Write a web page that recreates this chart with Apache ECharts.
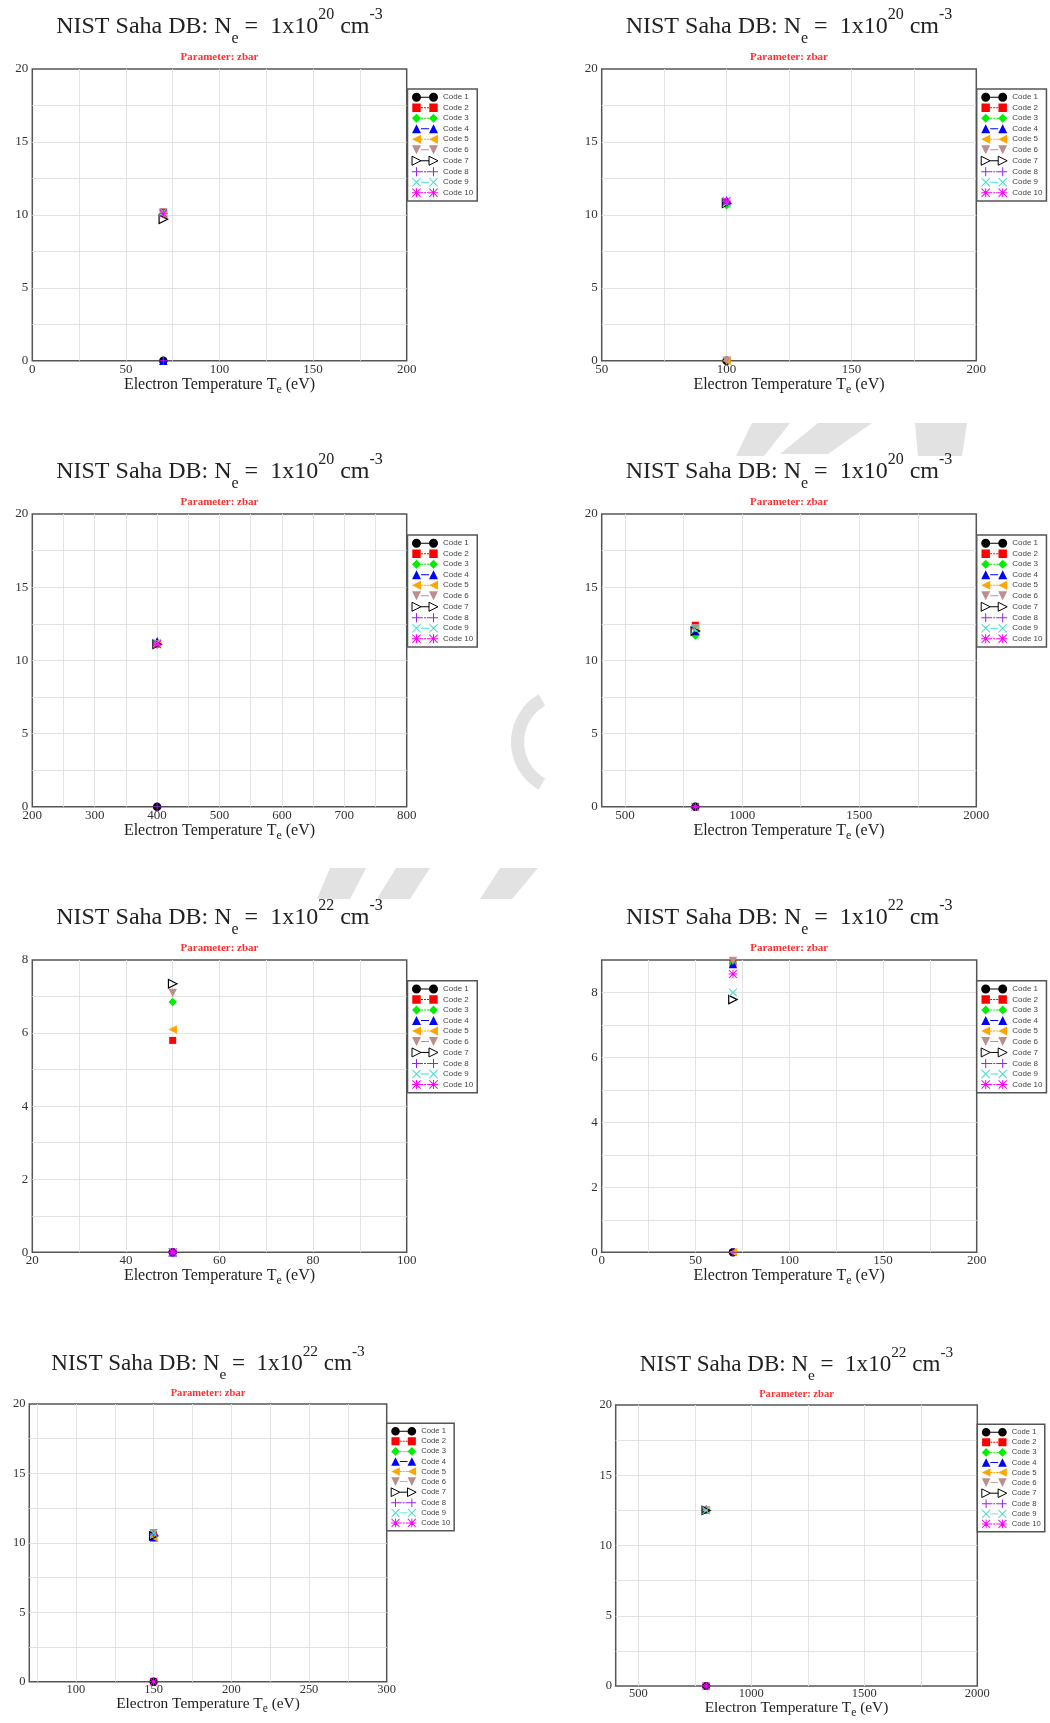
<!DOCTYPE html>
<html><head><meta charset="utf-8">
<script src="https://cdn.jsdelivr.net/npm/echarts@6/dist/echarts.min.js"></script>
<style>html,body{margin:0;padding:0;background:#fff}#c{width:1050px;height:1723px}</style>
</head><body><div id="c"></div>
<script>
// ---------------- data ----------------
const codeNames = ['Code 1','Code 2','Code 3','Code 4','Code 5','Code 6','Code 7','Code 8','Code 9','Code 10'];
const densityExponents = ['20','20','20','20','22','22','22','22'];
const temperatures = [70, 100, 400, 800, 50, 70, 150, 800];
// zbar per code (Code 1 .. Code 10) for each panel
const zbarPanel1 = [0, 10.2, 10.1, 0, 10.0, 10.0, 9.7, 0, 10.2, 10.1];
const zbarPanel2 = [0, 10.8, 10.65, 11.0, 0, 0, 10.8, 10.9, 10.8, 10.95];
const zbarPanel3 = [0, 11.1, 11.1, 11.3, 11.1, 11.1, 11.1, 0, 11.2, 11.1];
const zbarPanel4 = [0, 12.4, 11.7, 12.0, 12.1, 12.2, 12.0, 0, 12.1, 0];
const zbarPanel5 = [0, 5.8, 6.85, 0, 6.1, 7.1, 7.35, 0, 0, 0];
const zbarPanel6 = [0, 8.9, 8.9, 8.88, 0, 8.97, 7.78, 0, 8.0, 8.57];
const zbarPanel7 = [0, 10.6, 10.6, 10.4, 10.4, 10.7, 10.5, 10.6, 10.7, 0];
const zbarPanel8 = [0, 12.5, 12.5, 12.6, 12.5, 12.5, 12.5, 0, 12.5, 0];
const xMins = [0, 50, 200, 400, 20, 0, 70, 400];
const xMaxs = [200, 200, 800, 2000, 100, 200, 300, 2000];
const yMaxs = [20, 20, 20, 20, 8, 9, 20, 20];
const xLabelTicks = [
  [0,50,100,150,200], [50,100,150,200], [200,300,400,500,600,700,800], [500,1000,1500,2000],
  [20,40,60,80,100], [0,50,100,150,200], [100,150,200,250,300], [500,1000,1500,2000]
];
const xGridTicks = [
  [25,50,75,100,125,150,175], [75,100,125,150,175], [250,300,350,400,450,500,550,600,650,700,750],
  [500,750,1000,1250,1500,1750], [30,40,50,60,70,80,90], [25,50,75,100,125,150,175],
  [75,100,125,150,175,200,225,250,275], [500,750,1000,1250,1500,1750]
];
const yLabelTicks = [
  [0,5,10,15,20], [0,5,10,15,20], [0,5,10,15,20], [0,5,10,15,20],
  [0,2,4,6,8], [0,2,4,6,8], [0,5,10,15,20], [0,5,10,15,20]
];
const yGridTicks = [
  [2.5,5,7.5,10,12.5,15,17.5], [2.5,5,7.5,10,12.5,15,17.5], [2.5,5,7.5,10,12.5,15,17.5], [2.5,5,7.5,10,12.5,15,17.5],
  [1,2,3,4,5,6,7], [1,2,3,4,5,6,7,8], [2.5,5,7.5,10,12.5,15,17.5], [2.5,5,7.5,10,12.5,15,17.5]
];
const panelValues = [zbarPanel1, zbarPanel2, zbarPanel3, zbarPanel4, zbarPanel5, zbarPanel6, zbarPanel7, zbarPanel8];

// ---------------- layout & styles ----------------
const panelLayout = [
  {rect:[32.3,69,406.7,360.7],    legend:[407.5,89],     s:1},
  {rect:[601.7,69,976.3,360.7],   legend:[976.7,89],     s:1},
  {rect:[32.3,514,406.7,806.7],   legend:[407.5,535],    s:1},
  {rect:[601.7,514,976.3,806.7],  legend:[976.7,535],    s:1},
  {rect:[32.3,960,406.7,1252.3],  legend:[407.5,980.7],  s:1},
  {rect:[601.7,960,976.7,1252.3], legend:[976.7,980.7],  s:1},
  {rect:[29.3,1404,386.7,1681.7], legend:[386.7,1423.3], s:0.96},
  {rect:[615.7,1405,977.3,1686],  legend:[977.3,1424.3], s:0.96}
];
const codeStyles = [
  {shape:'circle',   color:'#000000', dash:false},
  {shape:'square',   color:'#ff0000', dash:true},
  {shape:'diamond',  color:'#00ee00', dash:true},
  {shape:'triUp',    color:'#0000ff', dash:false},
  {shape:'triLeft',  color:'#ffa500', dash:true},
  {shape:'triDown',  color:'#bc8f8f', dash:false},
  {shape:'triRight', color:'#000000', dash:true, hollow:true},
  {shape:'plus',     color:'#a020f0', dash:true},
  {shape:'cross',    color:'#40e0d0', dash:false},
  {shape:'star',     color:'#ff00ff', dash:true}
];
const SERIF = 'Liberation Serif';
const WATERMARK = '#e2e2e2';

function shapePath(shape, ox) {
  const X = v => (ox + v);
  switch (shape) {
    case 'circle': return `M${X(0)},4.5A4.5,4.5,0,1,0,${X(9)},4.5A4.5,4.5,0,1,0,${X(0)},4.5Z`;
    case 'square': return `M${X(0.3)},0.3H${X(8.7)}V8.7H${X(0.3)}ZM${X(0)},0M${X(9)},9`;
    case 'diamond': return `M${X(4.5)},0L${X(9)},4.5L${X(4.5)},9L${X(0)},4.5Z`;
    case 'triUp': return `M${X(4.5)},0L${X(9)},9L${X(0)},9Z`;
    case 'triDown': return `M${X(0)},0L${X(9)},0L${X(4.5)},9Z`;
    case 'triLeft': return `M${X(0)},4.5L${X(9)},0L${X(9)},9Z`;
    case 'triRight': return `M${X(0)},0L${X(9)},4.5L${X(0)},9Z`;
    case 'plus': return `M${X(4)},0H${X(5)}V9H${X(4)}ZM${X(0)},4H${X(9)}V5H${X(0)}Z`;
    case 'cross': return `M${X(0)},0.7L${X(0.7)},0L${X(9)},8.3L${X(8.3)},9ZM${X(8.3)},0L${X(9)},0.7L${X(0.7)},9L${X(0)},8.3Z`;
    case 'star': return shapePath('plus', ox) + shapePath('cross', ox);
  }
}
function plotSymbol(st) {
  if (st.shape === 'circle') return 'circle';
  if (st.shape === 'diamond') return 'diamond';
  if (st.shape === 'triUp') return 'triangle';
  return 'path://' + shapePath(st.shape, 0);
}
function legendIcon(st) {
  let line;
  if (st.hollow) line = 'M9,4.5L17,4.5';
  else if (st.dash) line = 'M9,4H11V5H9ZM12,4H14V5H12ZM15,4H17V5H15Z';
  else line = 'M9,4H17V5H9Z';
  return 'path://' + shapePath(st.shape, 0) + line + shapePath(st.shape, 17);
}
function itemStyleOf(st, bw) {
  return st.hollow
    ? {color:'rgba(255,255,255,0)', borderColor:st.color, borderWidth:bw, opacity:1}
    : {color:st.color, borderWidth:0, opacity:1};
}
const plainNumber = v => String(v);

const grid = [], xAxis = [], yAxis = [], series = [], legend = [], title = [];
panelLayout.forEach((pl, i) => {
  const [l, t, r, b] = pl.rect, s = pl.s;
  const cx = (l + r) / 2;
  grid.push({left:l, top:t, width:r - l, height:b - t, show:true,
    borderColor:'#555', borderWidth:1.5, backgroundColor:'#fff'});
  xAxis.push({
    type:'value', gridIndex:i, min:xMins[i], max:xMaxs[i],
    axisLine:{show:false}, axisTick:{show:false, customValues:xGridTicks[i]},
    axisLabel:{customValues:xLabelTicks[i], formatter:plainNumber, fontFamily:SERIF, fontSize:13*s, color:'#333', margin:2*s, hideOverlap:false},
    splitLine:{show:true, lineStyle:{color:'#e3e3e3', width:1}},
    name:'{m|Electron Temperature T}{sub|e}{m| (eV)}', nameLocation:'middle', nameGap:12.2*s,
    nameTextStyle:{fontFamily:SERIF, fontSize:16*s, color:'#222', rich:{
      m:{fontFamily:SERIF, fontSize:16*s, color:'#222', lineHeight:22*s},
      sub:{fontFamily:SERIF, fontSize:12*s, color:'#222', lineHeight:9*s, verticalAlign:'bottom'}
    }}
  });
  yAxis.push({
    type:'value', gridIndex:i, min:0, max:yMaxs[i],
    axisLine:{show:false}, axisTick:{show:false, customValues:yGridTicks[i]},
    axisLabel:{customValues:yLabelTicks[i], formatter:plainNumber, fontFamily:SERIF, fontSize:13*s, color:'#333', margin:4*s, hideOverlap:false},
    splitLine:{show:true, lineStyle:{color:'#e3e3e3', width:1}}
  });
  codeNames.forEach((name, k) => {
    const st = codeStyles[k];
    series.push({
      type:'scatter', name, xAxisIndex:i, yAxisIndex:i, clip:false, silent:true,
      symbol:plotSymbol(st), symbolSize:(st.shape === 'square' ? 7.5 : 8.5) * s,
      itemStyle:itemStyleOf(st, 1.2),
      data:[[temperatures[i], panelValues[i][k]]]
    });
  });
  legend.push({
    orient:'vertical', left:pl.legend[0], top:pl.legend[1],
    itemWidth:26*s, itemHeight:9*s, itemGap:1.5*s, padding:[3.75*s,4,3.75*s,4],
    borderColor:'#555', borderWidth:1.5, backgroundColor:'#fff', selectedMode:false,
    textStyle:{fontFamily:'Liberation Sans', fontSize:8*s, color:'#444'},
    data:codeNames.map((n, k) => ({name:n, icon:legendIcon(codeStyles[k]), itemStyle:itemStyleOf(codeStyles[k], 1)}))
  });
  title.push({
    text:`{m|NIST Saha DB: N}{sub|e}{m| =  1x10}{sup|${densityExponents[i]}}{m| cm}{sup|-3}`,
    left:cx, top:t - 62.1*s, textAlign:'center', padding:0,
    textStyle:{fontFamily:SERIF, fontSize:24*s, color:'#222', fontWeight:'normal', rich:{
      m:{fontFamily:SERIF, fontSize:24*s, color:'#222', lineHeight:40*s},
      sub:{fontFamily:SERIF, fontSize:16*s, color:'#222', lineHeight:19*s, verticalAlign:'bottom'},
      sup:{fontFamily:SERIF, fontSize:16*s, color:'#222', lineHeight:19*s, verticalAlign:'top'}
    }}
  });
  title.push({
    text:'Parameter: zbar', left:cx, top:t - 11.7*s - 6, textAlign:'center', padding:0,
    textStyle:{fontFamily:SERIF, fontSize:11*s, lineHeight:12, fontWeight:'bold', color:'#ff3030'}
  });
});

// faint background watermark pieces visible between the panels
const watermarkPolys = [
  [[752,423],[790,423],[764,456],[736,456]],
  [[818,423],[872,423],[828,454],[780,454]],
  [[915,423],[967,423],[962,456],[918,456]],
  [[330,868],[366,868],[350,899],[317,899]],
  [[396,868],[430,868],[410,899],[377,899]],
  [[500,868],[538,868],[512,899],[480,899]]
];
const graphic = watermarkPolys.map(pts => ({type:'polygon', z:-10, silent:true, shape:{points:pts}, style:{fill:WATERMARK}}));
graphic.push({type:'sector', z:-10, silent:true,
  shape:{cx:566, cy:742, r0:42, r:55, startAngle:Math.PI - 1.05, endAngle:Math.PI + 1.05},
  style:{fill:WATERMARK}});

const chart = echarts.init(document.getElementById('c'), null, {renderer:'canvas'});
chart.setOption({backgroundColor:'#fff', animation:false, grid, xAxis, yAxis, series, legend, title, graphic});
</script></body></html>
